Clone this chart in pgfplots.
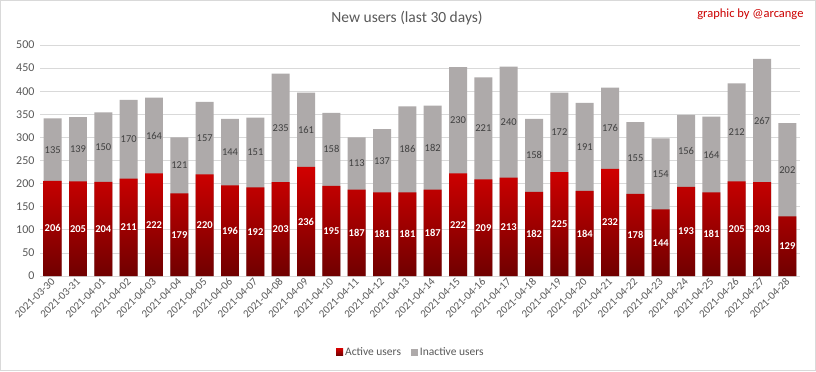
\documentclass[border=0pt]{standalone}
\usepackage{pgfplots}
\pgfplotsset{compat=1.18}
\usepackage{pgfplotstable}
\usepackage{fontspec}
\setmainfont{Carlito}
\definecolor{redtop}{RGB}{210,0,0}
\definecolor{redmid}{RGB}{192,0,0}
\definecolor{redbot}{RGB}{112,0,0}
\definecolor{grayfill}{RGB}{174,170,170}
\definecolor{txt}{RGB}{89,89,89}
\definecolor{gridc}{RGB}{217,217,217}
\definecolor{lblgray}{RGB}{64,64,64}
\definecolor{credit}{RGB}{204,0,0}

\pgfplotstableread{
x a i
0 206 135
1 205 139
2 204 150
3 211 170
4 222 164
5 179 121
6 220 157
7 196 144
8 192 151
9 203 235
10 236 161
11 195 158
12 187 113
13 181 137
14 181 186
15 187 182
16 222 230
17 209 221
18 213 240
19 182 158
20 225 172
21 184 191
22 232 176
23 178 155
24 144 154
25 193 156
26 181 164
27 205 212
28 203 267
29 129 202
}\data

\begin{document}
\begin{tikzpicture}[x=1bp,y=1bp]
\path[draw=gridc, fill=white, line width=1bp] (0.5,0.5) rectangle (815.5,370.5);
\begin{axis}[
  at={(40bp,95bp)}, anchor=south west,
  scale only axis, width=760bp, height=231bp,
  xmin=-0.5, xmax=29.5, ymin=0, ymax=500,
  ytick={0,50,...,500},
  xtick={0,...,29},
  xticklabels={2021-03-30,2021-03-31,2021-04-01,2021-04-02,2021-04-03,2021-04-04,2021-04-05,2021-04-06,2021-04-07,2021-04-08,2021-04-09,2021-04-10,2021-04-11,2021-04-12,2021-04-13,2021-04-14,2021-04-15,2021-04-16,2021-04-17,2021-04-18,2021-04-19,2021-04-20,2021-04-21,2021-04-22,2021-04-23,2021-04-24,2021-04-25,2021-04-26,2021-04-27,2021-04-28},
  bar width=0.71,
  axis line style={draw=none},
  major tick length=0pt,
  ymajorgrids,
  grid style={draw=gridc, line width=0.8bp},
  tick label style={font=\fontsize{12bp}{14bp}\selectfont, text=txt},
  yticklabel style={xshift=-2bp},
  xticklabel style={rotate=45, anchor=east, font=\fontsize{11bp}{13bp}\selectfont, xshift=1bp, yshift=-3bp},
  /pgf/number format/assume math mode=true,
  legend style={at={(0.488,-0.329)}, anchor=center, draw=none, fill=none,
    legend columns=2, font=\fontsize{11.5bp}{13bp}\selectfont, text=txt,
    /tikz/every even column/.append style={column sep=8bp}},
  legend image code/.code={\fill[#1] (0bp,-3.5bp) rectangle (7bp,3.5bp);},
  reverse legend,
  clip=false,
]
\addplot[ybar, bar shift=0pt, draw=none, fill=grayfill] table[x=x, y expr=\thisrow{a}+\thisrow{i}] {\data};
\addlegendentry{Inactive users}
\addplot[ybar, bar shift=0pt, draw=none, bottom color=redbot, middle color=redmid, top color=redtop] table[x=x, y=a] {\data};
\addlegendentry{Active users}
\addplot[draw=none, forget plot, point meta=explicit,
  nodes near coords, every node near coord/.append style={anchor=center, text=white, font=\bfseries\fontsize{10.5bp}{12bp}\selectfont, /pgf/number format/assume math mode=true}]
  table[x=x, y expr=\thisrow{a}/2, meta=a] {\data};
\addplot[draw=none, forget plot, point meta=explicit,
  nodes near coords, every node near coord/.append style={anchor=center, text=lblgray, font=\fontsize{10.5bp}{12bp}\selectfont, /pgf/number format/assume math mode=true}]
  table[x=x, y expr=\thisrow{a}+\thisrow{i}/2, meta=i] {\data};
\end{axis}
\node[text=txt, font=\fontsize{15.5bp}{18bp}\selectfont] at (407bp,353bp) {New users (last 30 days)};
\node[text=credit, anchor=east, font=\fontsize{12.5bp}{15bp}\selectfont] at (807bp,357bp) {graphic by @arcange};
\end{tikzpicture}
\end{document}
